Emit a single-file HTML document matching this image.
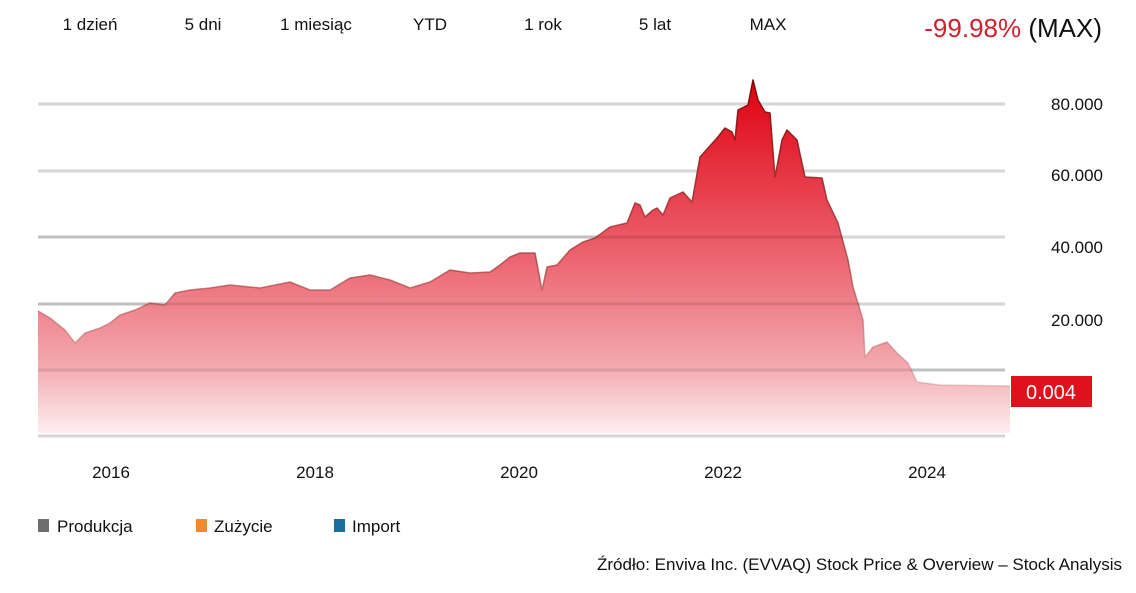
<!DOCTYPE html>
<html><head><meta charset="utf-8"><style>
body{margin:0;background:#fff;width:1136px;height:588px;overflow:hidden;font-family:"Liberation Sans",sans-serif;}
</style></head><body>
<svg width="1136" height="588" xmlns="http://www.w3.org/2000/svg" font-family="Liberation Sans, sans-serif">
<defs>
<linearGradient id="g" x1="0" y1="80" x2="0" y2="436" gradientUnits="userSpaceOnUse">
<stop offset="0" stop-color="#e00010"/>
<stop offset="0.5" stop-color="#ec6470"/>
<stop offset="0.8" stop-color="#f3a8ae"/>
<stop offset="1" stop-color="#fdf2f3"/>
</linearGradient>
<linearGradient id="s" x1="0" y1="80" x2="0" y2="400" gradientUnits="userSpaceOnUse">
<stop offset="0" stop-color="#7a0a0a"/>
<stop offset="0.6" stop-color="#a03a3a" stop-opacity="0.7"/>
<stop offset="1" stop-color="#c08080" stop-opacity="0.3"/>
</linearGradient>
</defs>
<g font-size="17" fill="#111" text-anchor="middle">
<text x="90" y="30">1 dzień</text><text x="203" y="30">5 dni</text><text x="316" y="30">1 miesiąc</text><text x="430" y="30">YTD</text><text x="543" y="30">1 rok</text><text x="655" y="30">5 lat</text><text x="768" y="30">MAX</text>
</g>
<text x="1102" y="37" font-size="26" text-anchor="end"><tspan fill="#d0202c">-99.98%</tspan><tspan fill="#111"> (MAX)</tspan></text>
<g stroke="#d6d6d6" stroke-width="3">
<line x1="38" y1="104" x2="1005" y2="104"/><line x1="38" y1="171" x2="1005" y2="171"/><line x1="38" y1="237" x2="1005" y2="237"/><line x1="38" y1="304" x2="1005" y2="304"/><line x1="38" y1="370" x2="1005" y2="370"/><line x1="38" y1="436" x2="1005" y2="436"/>
</g>
<path fill="url(#g)" d="M38,311 L50,318 L65,330 L75,343 L85,333 L100,328 L110,323 L120,315 L135,310 L150,303 L165,305 L175,293 L190,290 L210,288 L230,285 L260,288 L290,282 L310,290 L330,290 L350,278 L370,275 L390,280 L410,288 L430,282 L450,270 L470,273 L490,272 L500,265 L510,257 L520,253 L535,253 L542,290 L547,267 L557,265 L570,250 L583,242 L595,238 L610,227 L627,223 L635,203 L640,205 L645,217 L653,210 L657,208 L663,215 L670,198 L683,192 L692,202 L700,157 L717,138 L725,128 L732,132 L735,140 L738,110 L748,105 L753,80 L758,100 L765,112 L770,113 L775,177 L782,140 L787,130 L797,140 L805,177 L822,178 L827,200 L838,223 L848,260 L853,287 L863,320 L865,357 L873,347 L887,342 L897,353 L908,363 L917,382 L940,385 L1010,386 L1010,433 L38,433 Z"/>
<path fill="none" stroke="url(#s)" stroke-width="1.5" stroke-linejoin="round" d="M38,311 L50,318 L65,330 L75,343 L85,333 L100,328 L110,323 L120,315 L135,310 L150,303 L165,305 L175,293 L190,290 L210,288 L230,285 L260,288 L290,282 L310,290 L330,290 L350,278 L370,275 L390,280 L410,288 L430,282 L450,270 L470,273 L490,272 L500,265 L510,257 L520,253 L535,253 L542,290 L547,267 L557,265 L570,250 L583,242 L595,238 L610,227 L627,223 L635,203 L640,205 L645,217 L653,210 L657,208 L663,215 L670,198 L683,192 L692,202 L700,157 L717,138 L725,128 L732,132 L735,140 L738,110 L748,105 L753,80 L758,100 L765,112 L770,113 L775,177 L782,140 L787,130 L797,140 L805,177 L822,178 L827,200 L838,223 L848,260 L853,287 L863,320 L865,357 L873,347 L887,342 L897,353 L908,363 L917,382 L940,385 L1010,386"/>
<g stroke="#000" stroke-opacity="0.1" stroke-width="3"><line x1="38" y1="370" x2="1005" y2="370"/><line x1="38" y1="304" x2="860" y2="304"/><line x1="38" y1="237" x2="842" y2="237"/></g>
<g font-size="17" fill="#111" text-anchor="end">
<text x="1103" y="110">80.000</text><text x="1103" y="181">60.000</text><text x="1103" y="253">40.000</text><text x="1103" y="326">20.000</text>
</g>
<rect x="1011" y="376" width="81" height="31" fill="#e0101c"/>
<text x="1051" y="399" font-size="20" fill="#fff" text-anchor="middle">0.004</text>
<g font-size="17" fill="#111" text-anchor="middle">
<text x="111" y="478">2016</text><text x="315" y="478">2018</text><text x="519" y="478">2020</text><text x="723" y="478">2022</text><text x="927" y="478">2024</text>
</g>
<rect x="38" y="519" width="11" height="13" fill="#6e6e6e"/><text x="57" y="532" font-size="17" fill="#111">Produkcja</text>
<rect x="196" y="519" width="11" height="13" fill="#ef8a2e"/><text x="214" y="532" font-size="17" fill="#111">Zużycie</text>
<rect x="334" y="519" width="11" height="13" fill="#1a6e9e"/><text x="352" y="532" font-size="17" fill="#111">Import</text>
<text x="1122" y="570" font-size="17" fill="#111" text-anchor="end">Źródło: Enviva Inc. (EVVAQ) Stock Price &amp; Overview – Stock Analysis</text>
</svg>
</body></html>
